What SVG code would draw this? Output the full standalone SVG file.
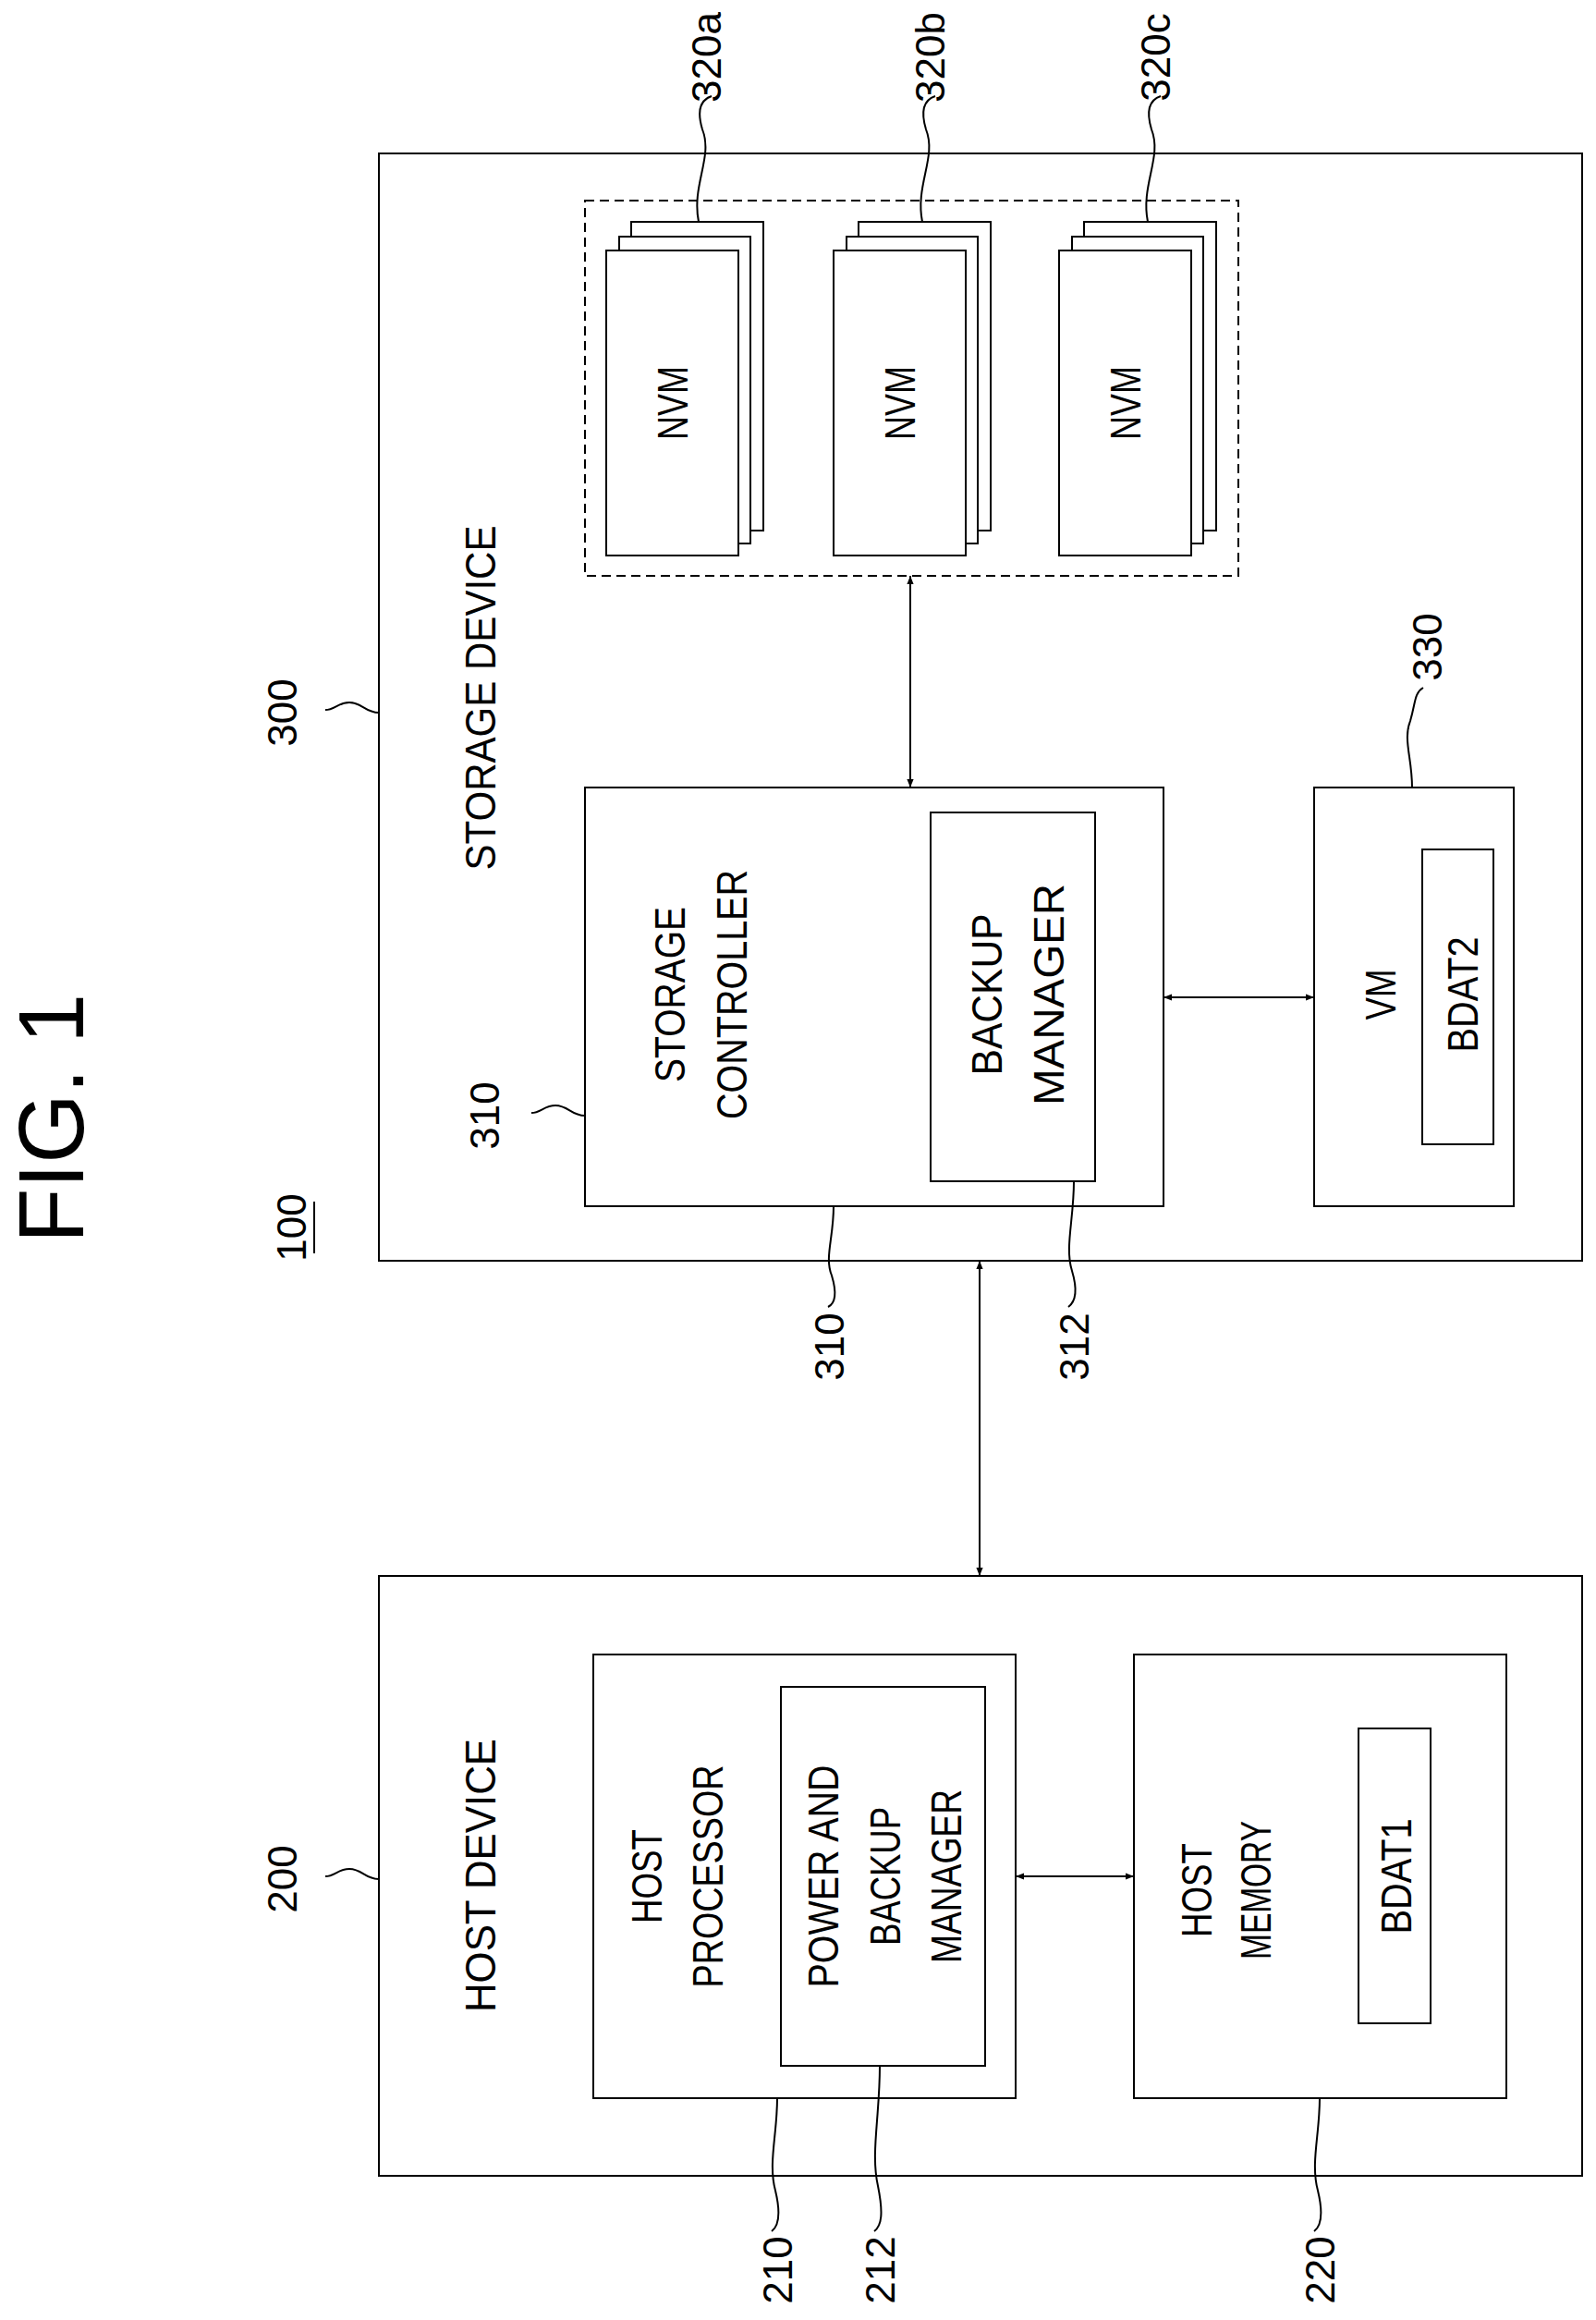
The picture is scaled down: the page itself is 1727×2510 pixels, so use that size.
<svg xmlns="http://www.w3.org/2000/svg" width="1727" height="2510" viewBox="0 0 1727 2510">
<style>
rect{fill:#fff;stroke:#000;stroke-width:2}
.d{stroke-dasharray:10 6;fill:none}
text{font-family:"Liberation Sans",Arial,sans-serif;font-size:46px;fill:#000;text-anchor:middle;dominant-baseline:central}
.n{font-size:44px}
.l{fill:none;stroke:#000;stroke-width:2}
.a{fill:none;stroke:#000;stroke-width:2;marker-start:url(#m);marker-end:url(#m)}
</style>
<defs><marker id="m" viewBox="0 0 10 10" refX="10" refY="5" markerWidth="9" markerHeight="14" markerUnits="userSpaceOnUse" orient="auto-start-reverse"><path d="M0,1 L10,5 L0,9z" fill="#000"/></marker></defs>
<text x="55" y="1210" transform="rotate(-90 55 1210)" style="font-size:100px" textLength="270" lengthAdjust="spacingAndGlyphs">FIG. 1</text>
<g id="label100"><text x="315" y="1328" transform="rotate(-90 315 1328)" class="n">100</text><line x1="340" y1="1300" x2="340" y2="1356" class="l"/></g>
<g id="n300"><rect x="410" y="166" width="1302" height="1198"/><text x="520" y="755" transform="rotate(-90 520 755)" textLength="373" lengthAdjust="spacingAndGlyphs">STORAGE DEVICE</text></g>
<g id="n320"><rect class="d" x="633" y="217" width="707" height="406"/></g>
<g id="n320a"><rect x="683" y="240" width="143" height="334"/><rect x="670" y="256" width="142" height="332"/><rect x="656" y="271" width="143" height="330"/><text x="728" y="436" transform="rotate(-90 728 436)" textLength="80" lengthAdjust="spacingAndGlyphs">NVM</text></g>
<g id="n320b"><rect x="929" y="240" width="143" height="334"/><rect x="916" y="256" width="142" height="332"/><rect x="902" y="271" width="143" height="330"/><text x="974" y="436" transform="rotate(-90 974 436)" textLength="80" lengthAdjust="spacingAndGlyphs">NVM</text></g>
<g id="n320c"><rect x="1173" y="240" width="143" height="334"/><rect x="1160" y="256" width="142" height="332"/><rect x="1146" y="271" width="143" height="330"/><text x="1218" y="436" transform="rotate(-90 1218 436)" textLength="80" lengthAdjust="spacingAndGlyphs">NVM</text></g>
<g id="n310"><rect x="633" y="852" width="626" height="453"/><text x="725" y="1076" transform="rotate(-90 725 1076)" textLength="190" lengthAdjust="spacingAndGlyphs">STORAGE</text><text x="792" y="1076" transform="rotate(-90 792 1076)" textLength="270" lengthAdjust="spacingAndGlyphs">CONTROLLER</text></g>
<g id="n312"><rect x="1007" y="879" width="178" height="399"/><text x="1068" y="1076" transform="rotate(-90 1068 1076)" textLength="175" lengthAdjust="spacingAndGlyphs">BACKUP</text><text x="1135" y="1076" transform="rotate(-90 1135 1076)" textLength="240" lengthAdjust="spacingAndGlyphs">MANAGER</text></g>
<g id="n330"><rect x="1422" y="852" width="216" height="453"/><text x="1494" y="1076" transform="rotate(-90 1494 1076)" textLength="55" lengthAdjust="spacingAndGlyphs">VM</text><rect x="1539" y="919" width="77" height="319"/><text x="1583" y="1076" transform="rotate(-90 1583 1076)" textLength="125" lengthAdjust="spacingAndGlyphs">BDAT2</text></g>
<g id="n200"><rect x="410" y="1705" width="1302" height="649"/><text x="520" y="2029" transform="rotate(-90 520 2029)" textLength="296" lengthAdjust="spacingAndGlyphs">HOST DEVICE</text></g>
<g id="n210"><rect x="642" y="1790" width="457" height="480"/><text x="700" y="2030" transform="rotate(-90 700 2030)" textLength="102" lengthAdjust="spacingAndGlyphs">HOST</text><text x="766" y="2030" transform="rotate(-90 766 2030)" textLength="241" lengthAdjust="spacingAndGlyphs">PROCESSOR</text></g>
<g id="n212"><rect x="845" y="1825" width="221" height="410"/><text x="891" y="2030" transform="rotate(-90 891 2030)" textLength="241" lengthAdjust="spacingAndGlyphs">POWER AND</text><text x="958" y="2030" transform="rotate(-90 958 2030)" textLength="150" lengthAdjust="spacingAndGlyphs">BACKUP</text><text x="1024" y="2030" transform="rotate(-90 1024 2030)" textLength="188" lengthAdjust="spacingAndGlyphs">MANAGER</text></g>
<g id="n220"><rect x="1227" y="1790" width="403" height="480"/><text x="1295" y="2045" transform="rotate(-90 1295 2045)" textLength="102" lengthAdjust="spacingAndGlyphs">HOST</text><text x="1359" y="2045" transform="rotate(-90 1359 2045)" textLength="150" lengthAdjust="spacingAndGlyphs">MEMORY</text><rect x="1470" y="1870" width="78" height="319"/><text x="1511" y="2030" transform="rotate(-90 1511 2030)" textLength="125" lengthAdjust="spacingAndGlyphs">BDAT1</text></g>
<g id="connectors">
<line class="a" x1="985" y1="623" x2="985" y2="852"/>
<line class="a" x1="1259" y1="1079" x2="1422" y2="1079"/>
<line class="a" x1="1060" y1="1364" x2="1060" y2="1705"/>
<line class="a" x1="1099" y1="2030" x2="1227" y2="2030"/>
</g>
<g id="leaders">
<path class="l" d="M756,240 C748,200 772,170 760,140 C754,120 758,108 770,104"/><text class="n" x="764" y="62" transform="rotate(-90 764 62)">320a</text>
<path class="l" d="M998,240 C990,200 1014,170 1002,140 C996,120 1000,108 1012,104"/><text class="n" x="1006" y="62" transform="rotate(-90 1006 62)">320b</text>
<path class="l" d="M1242,240 C1234,200 1258,170 1246,140 C1240,120 1244,108 1256,104"/><text class="n" x="1250" y="62" transform="rotate(-90 1250 62)">320c</text>
<path class="l" d="M410,771 C395,771 392,760 378,760 C366,760 362,768 352,768"/><text class="n" x="305" y="771" transform="rotate(-90 305 771)">300</text>
<path class="l" d="M633,1207 C618,1207 615,1196 601,1196 C589,1196 585,1204 575,1204"/><text class="n" x="524" y="1207" transform="rotate(-90 524 1207)">310</text>
<path class="l" d="M1528,852 C1528,820 1518,800 1526,780 C1532,760 1530,750 1540,744"/><text class="n" x="1544" y="700" transform="rotate(-90 1544 700)">330</text>
<path class="l" d="M902,1305 C902,1340 892,1360 900,1380 C906,1400 904,1410 896,1414"/><text class="n" x="897" y="1457" transform="rotate(-90 897 1457)">310</text>
<path class="l" d="M1162,1278 C1162,1320 1152,1350 1160,1375 C1166,1395 1164,1408 1156,1414"/><text class="n" x="1162" y="1457" transform="rotate(-90 1162 1457)">312</text>
<path class="l" d="M410,2033 C395,2033 392,2022 378,2022 C366,2022 362,2030 352,2030"/><text class="n" x="305" y="2033" transform="rotate(-90 305 2033)">200</text>
<path class="l" d="M841,2270 C841,2310 831,2340 839,2370 C845,2395 843,2408 835,2414"/><text class="n" x="841" y="2456" transform="rotate(-90 841 2456)">210</text>
<path class="l" d="M952,2235 C952,2290 942,2330 950,2365 C956,2395 954,2408 946,2414"/><text class="n" x="952" y="2456" transform="rotate(-90 952 2456)">212</text>
<path class="l" d="M1428,2270 C1428,2310 1418,2340 1426,2370 C1432,2395 1430,2408 1422,2414"/><text class="n" x="1428" y="2456" transform="rotate(-90 1428 2456)">220</text>
</g>
</svg>
